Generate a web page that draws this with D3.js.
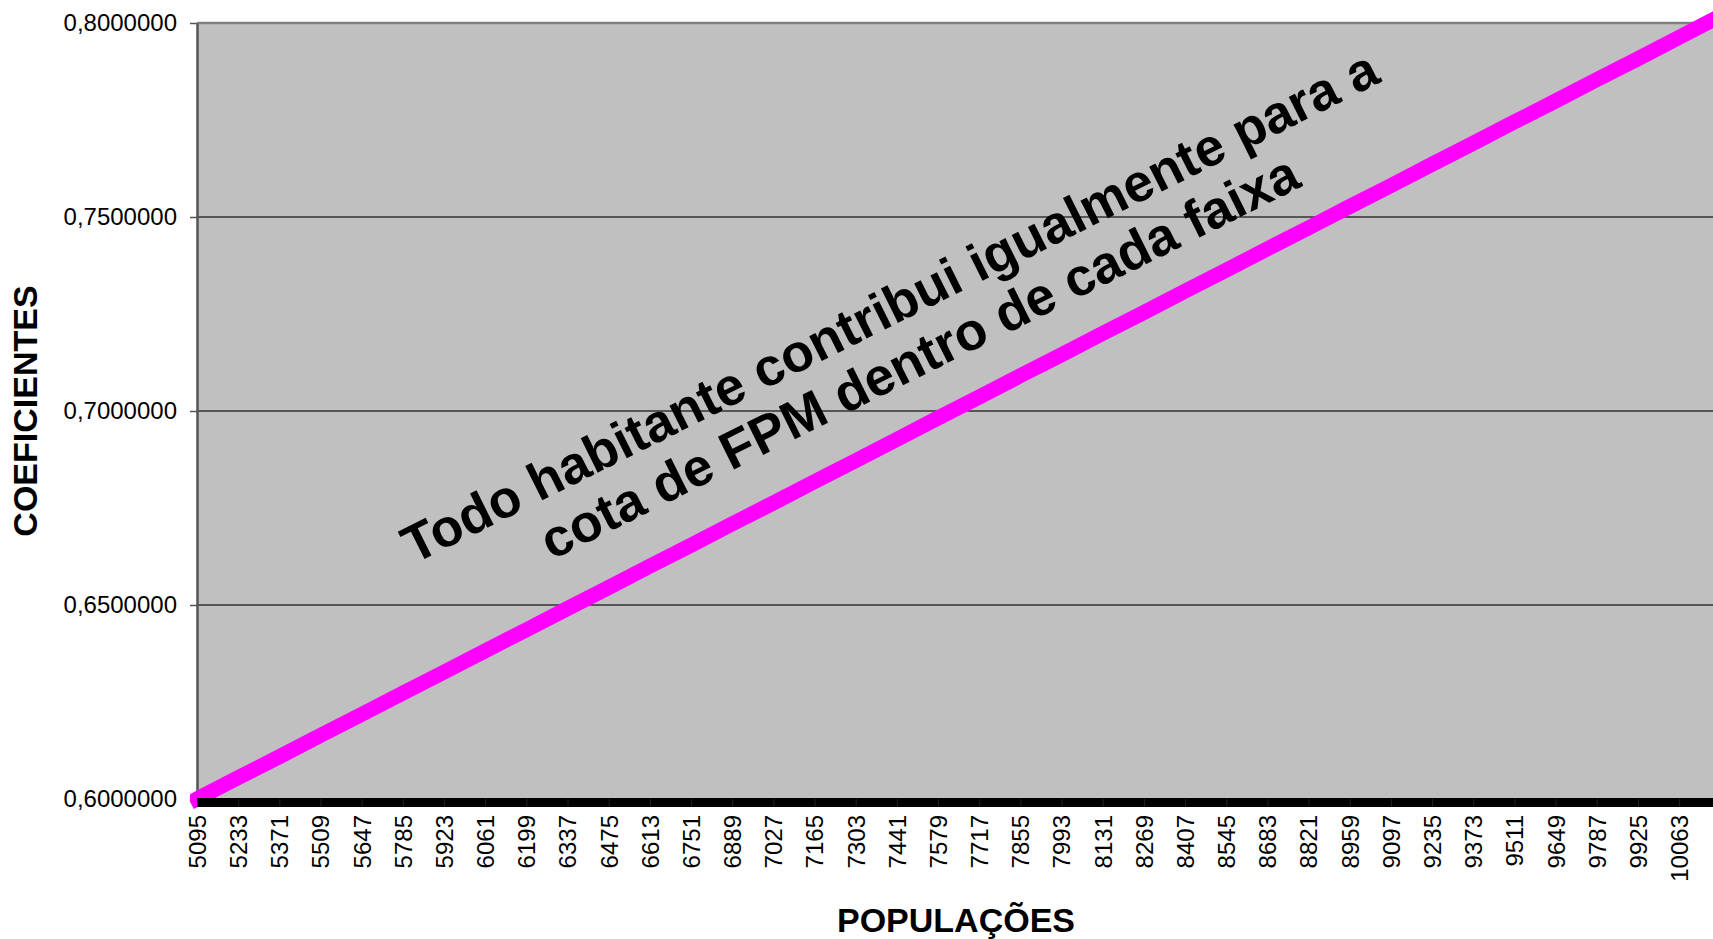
<!DOCTYPE html>
<html>
<head>
<meta charset="utf-8">
<script src="https://cdn.jsdelivr.net/npm/d3@7"></script>
<style>
  html, body { margin: 0; padding: 0; background: #fff; overflow: hidden; }
  svg { display: block; font-family: "Liberation Sans", Arial, sans-serif; }
</style>
</head>
<body>
<svg id="chart" width="1713" height="939"></svg>
<script>
// ── Dados ──
const populacoes = [5095, 5233, 5371, 5509, 5647, 5785, 5923, 6061, 6199, 6337,
  6475, 6613, 6751, 6889, 7027, 7165, 7303, 7441, 7579, 7717,
  7855, 7993, 8131, 8269, 8407, 8545, 8683, 8821, 8959, 9097,
  9235, 9373, 9511, 9649, 9787, 9925, 10063, 10201];

const coeficientes = [0.6000, 0.6055, 0.6109, 0.6164, 0.6218, 0.6273, 0.6327, 0.6382, 0.6436, 0.6491,
  0.6545, 0.6600, 0.6654, 0.6709, 0.6763, 0.6818, 0.6872, 0.6927, 0.6982, 0.7036,
  0.7091, 0.7145, 0.7200, 0.7254, 0.7309, 0.7363, 0.7418, 0.7472, 0.7527, 0.7581,
  0.7636, 0.7690, 0.7745, 0.7799, 0.7854, 0.7908, 0.7963, 0.8018];

const yTicks = [0.60, 0.65, 0.70, 0.75, 0.80];

const anotacao = ["Todo habitante contribui igualmente para a",
                  "cota de FPM dentro de cada faixa"];

const W = 1713, H = 939;
const plot = { left: 197, right: 1716, top: 23, bottom: 799 };
const step = 41.17;

const svg = d3.select("#chart");

const x = d3.scalePoint()
  .domain(populacoes)
  .range([plot.left, plot.left + step * (populacoes.length - 1)]);

const y = d3.scaleLinear()
  .domain([0.6, 0.8])
  .range([plot.bottom, plot.top]);

const br = d3.formatLocale({ decimal: ",", thousands: ".", grouping: [3], currency: ["R$", ""] });
const fmt = br.format(".7f");

// ── Fundo da área do gráfico ──
svg.append("rect")
  .attr("x", plot.left).attr("y", plot.top)
  .attr("width", plot.right - plot.left).attr("height", plot.bottom - plot.top)
  .attr("fill", "#c0c0c0");

// Linhas de grade
svg.append("g").selectAll("line")
  .data(yTicks.filter(v => v > 0.6 && v < 0.8)).join("line")
  .attr("x1", plot.left).attr("x2", plot.right)
  .attr("y1", d => y(d)).attr("y2", d => y(d))
  .attr("stroke", "#333").attr("stroke-width", 1.5);

// Borda superior
svg.append("line")
  .attr("x1", plot.left).attr("x2", plot.right)
  .attr("y1", plot.top).attr("y2", plot.top)
  .attr("stroke", "#808080").attr("stroke-width", 2.5);

// ── Eixo Y ──
const yAxis = svg.append("g")
  .attr("transform", `translate(${plot.left},0)`)
  .call(d3.axisLeft(y).tickValues(yTicks).tickFormat(fmt).tickSize(7).tickSizeOuter(0).tickPadding(13));
yAxis.select(".domain").attr("stroke", "#555").attr("stroke-width", 2.5);
yAxis.selectAll(".tick line").attr("stroke", "#555").attr("stroke-width", 1.5);
yAxis.selectAll(".tick text")
  .attr("font-size", 24).attr("fill", "#000")
  .attr("font-family", "'Liberation Sans', Arial, sans-serif");

// ── Linha dos coeficientes ──
const dados = populacoes.map((p, i) => ({ pop: p, coef: coeficientes[i] }));

svg.append("clipPath").attr("id", "clip-linha")
  .append("rect")
  .attr("x", 190).attr("y", 0)
  .attr("width", plot.right - 190).attr("height", H);

svg.append("path")
  .datum(dados)
  .attr("clip-path", "url(#clip-linha)")
  .attr("fill", "none")
  .attr("stroke", "#ff00ff")
  .attr("stroke-width", 15)
  .attr("stroke-linecap", "square")
  .attr("d", d3.line().x(d => x(d.pop)).y(d => y(d.coef)));

// ── Eixo X (faixa preta grossa) ──
svg.append("line")
  .attr("x1", plot.left).attr("x2", plot.right)
  .attr("y1", 802.5).attr("y2", 802.5)
  .attr("stroke", "#000").attr("stroke-width", 9);

const visiveis = populacoes.filter(p => x(p) + 9 < W);

const xAxis = svg.append("g")
  .attr("transform", `translate(0,${plot.bottom})`)
  .call(d3.axisBottom(x).tickValues(visiveis).tickFormat(d => d).tickSize(8).tickSizeOuter(0));
xAxis.select(".domain").remove();
xAxis.selectAll(".tick line").attr("stroke", "#222").attr("stroke-width", 1);
xAxis.selectAll(".tick text")
  .attr("font-size", 24).attr("fill", "#000")
  .attr("font-family", "'Liberation Sans', Arial, sans-serif")
  .attr("text-anchor", "end")
  .attr("transform", "rotate(-90)")
  .attr("x", -16).attr("y", 0).attr("dy", "0.35em");

// ── Títulos dos eixos ──
svg.append("text")
  .attr("x", 956).attr("y", 932)
  .attr("text-anchor", "middle")
  .attr("font-size", 34).attr("font-weight", "bold")
  .text("POPULAÇÕES");

svg.append("text")
  .attr("transform", `translate(37,${(plot.top + plot.bottom) / 2}) rotate(-90)`)
  .attr("text-anchor", "middle")
  .attr("font-size", 34).attr("font-weight", "bold")
  .text("COEFICIENTES");

// ── Anotação inclinada ──
const nota = svg.append("g")
  .attr("transform", "translate(898,323) rotate(-26.5)");

nota.selectAll("text")
  .data(anotacao).join("text")
  .attr("x", (d, i) => i * 4)
  .attr("y", (d, i) => i * 58)
  .attr("text-anchor", "middle")
  .attr("font-size", 53).attr("font-weight", "bold")
  .attr("fill", "#000")
  .text(d => d);
</script>
</body>
</html>
